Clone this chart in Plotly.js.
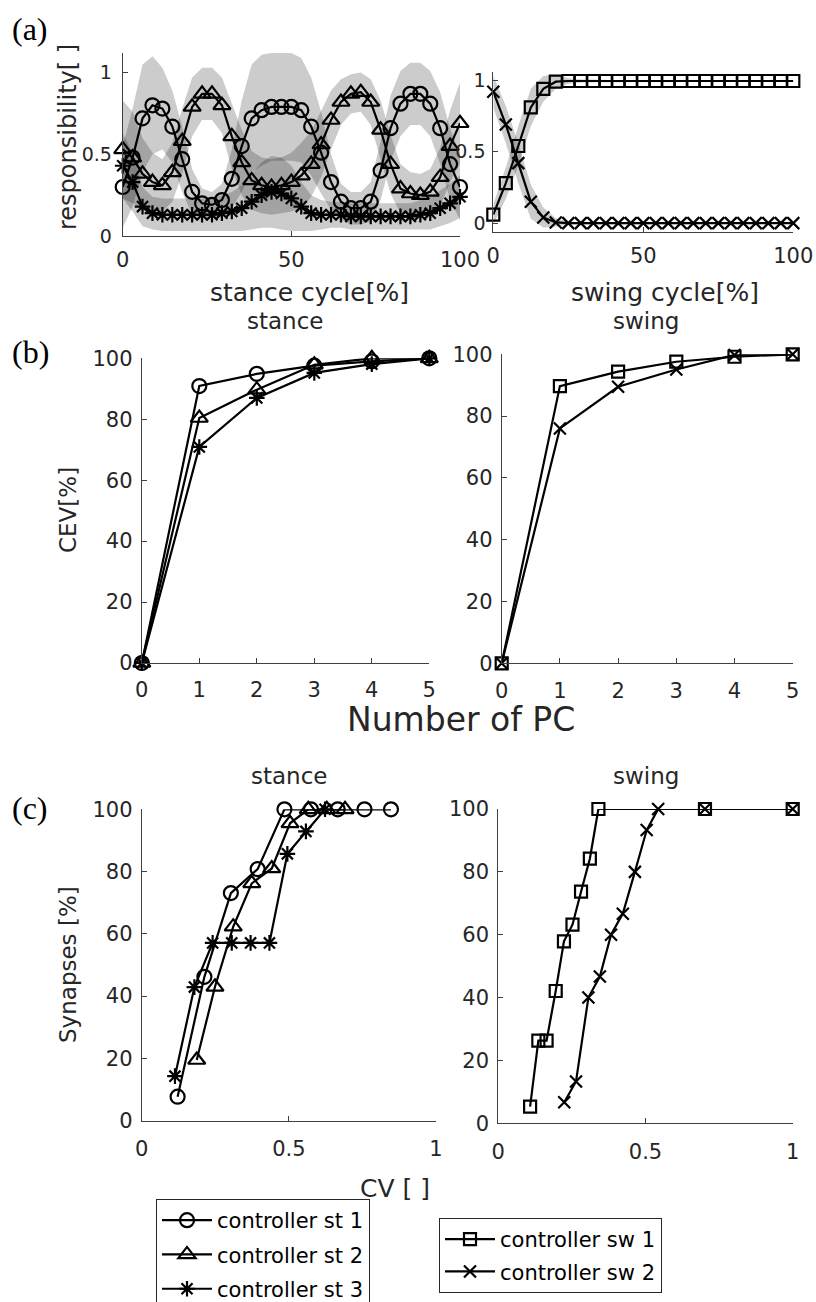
<!DOCTYPE html>
<html>
<head>
<meta charset="utf-8">
<script src="https://cdn.plot.ly/plotly-3.0.1.min.js"></script>
<style>html,body{margin:0;padding:0;background:#fff;}#chart{width:816px;height:1302px;}</style>
</head>
<body>
<div id="chart"></div>
<script>
// ---------- (a) responsibility, stance cycle ----------
const stanceX = [0, 2.94, 5.88, 8.82, 11.76, 14.71, 17.65, 20.59, 23.53, 26.47, 29.41, 32.35, 35.29, 38.24, 41.18, 44.12, 47.06, 50, 52.94, 55.88, 58.82, 61.76, 64.71, 67.65, 70.59, 73.53, 76.47, 79.41, 82.35, 85.29, 88.24, 91.18, 94.12, 97.06, 100];
const st1Mean = [0.30, 0.48, 0.72, 0.80, 0.78, 0.67, 0.47, 0.27, 0.20, 0.19, 0.22, 0.35, 0.55, 0.72, 0.77, 0.79, 0.79, 0.79, 0.77, 0.67, 0.51, 0.33, 0.21, 0.17, 0.17, 0.21, 0.40, 0.66, 0.81, 0.87, 0.87, 0.81, 0.66, 0.44, 0.30];
const st1Std  = [0.25, 0.30, 0.33, 0.30, 0.25, 0.22, 0.20, 0.14, 0.09, 0.08, 0.10, 0.18, 0.28, 0.33, 0.34, 0.33, 0.33, 0.33, 0.32, 0.30, 0.25, 0.17, 0.11, 0.10, 0.10, 0.12, 0.18, 0.20, 0.20, 0.19, 0.19, 0.20, 0.22, 0.22, 0.20];
const st2Mean = [0.53, 0.48, 0.38, 0.33, 0.31, 0.39, 0.58, 0.79, 0.87, 0.87, 0.80, 0.61, 0.45, 0.34, 0.31, 0.30, 0.31, 0.33, 0.37, 0.44, 0.56, 0.71, 0.82, 0.87, 0.88, 0.82, 0.65, 0.44, 0.29, 0.26, 0.25, 0.27, 0.36, 0.55, 0.69];
const st2Std  = [0.30, 0.28, 0.22, 0.18, 0.16, 0.18, 0.20, 0.18, 0.16, 0.16, 0.17, 0.20, 0.20, 0.18, 0.17, 0.17, 0.17, 0.18, 0.20, 0.20, 0.20, 0.18, 0.14, 0.12, 0.12, 0.14, 0.18, 0.18, 0.15, 0.13, 0.13, 0.14, 0.18, 0.22, 0.25];
const st3Mean = [0.43, 0.33, 0.18, 0.14, 0.13, 0.13, 0.13, 0.13, 0.13, 0.13, 0.14, 0.15, 0.17, 0.21, 0.25, 0.27, 0.26, 0.23, 0.18, 0.14, 0.13, 0.13, 0.13, 0.12, 0.12, 0.12, 0.12, 0.12, 0.12, 0.12, 0.13, 0.14, 0.17, 0.20, 0.24];
const st3Std  = [0.20, 0.18, 0.12, 0.10, 0.10, 0.10, 0.10, 0.10, 0.10, 0.10, 0.11, 0.12, 0.14, 0.17, 0.20, 0.22, 0.22, 0.20, 0.15, 0.11, 0.09, 0.08, 0.08, 0.08, 0.08, 0.08, 0.08, 0.08, 0.08, 0.08, 0.09, 0.10, 0.11, 0.12, 0.13];

// ---------- (a) responsibility, swing cycle ----------
const swingX = [0, 4.17, 8.33, 12.5, 16.67, 20.83, 25, 29.17, 33.33, 37.5, 41.67, 45.83, 50, 54.17, 58.33, 62.5, 66.67, 70.83, 75, 79.17, 83.33, 87.5, 91.67, 95.83, 100];
const sw1Mean = [0.06, 0.28, 0.54, 0.81, 0.94, 0.99, 0.995, 0.995, 0.995, 0.995, 0.995, 0.995, 0.995, 0.995, 0.995, 0.995, 0.995, 0.995, 0.995, 0.995, 0.995, 0.995, 0.995, 0.995, 0.995];
const sw1Std  = [0.07, 0.11, 0.14, 0.13, 0.09, 0.05, 0.02, 0.01, 0.01, 0.005, 0.005, 0.005, 0.005, 0.005, 0.005, 0.005, 0.005, 0.005, 0.005, 0.005, 0.005, 0.005, 0.005, 0.005, 0.005];
const sw2Mean = [0.92, 0.69, 0.42, 0.15, 0.04, 0.005, 0, 0, 0, 0, 0, 0, 0, 0, 0, 0, 0, 0, 0, 0, 0, 0, 0, 0, 0];
const sw2Std  = [0.11, 0.13, 0.14, 0.12, 0.07, 0.03, 0.01, 0.005, 0.005, 0.005, 0.005, 0.005, 0.005, 0.005, 0.005, 0.005, 0.005, 0.005, 0.005, 0.005, 0.005, 0.005, 0.005, 0.005, 0.005];

// ---------- (b) CEV vs number of PC ----------
const pcX = [0, 1, 2, 3, 4, 5];
const cevSt1 = [0, 90.9, 94.9, 97.6, 99.0, 100];
const cevSt2 = [0, 80.4, 89.7, 97.9, 100, 100];
const cevSt3 = [0, 70.9, 87.0, 95.2, 98.1, 100];
const cevSw1 = [0, 89.7, 94.4, 97.6, 99.2, 100];
const cevSw2 = [0, 76.0, 89.5, 95.1, 99.8, 100];

// ---------- (c) Synapses vs CV ----------
const cvSt1  = [0.122, 0.213, 0.303, 0.394, 0.485, 0.575, 0.666, 0.757, 0.847];
const synSt1 = [7.7, 46.2, 73.1, 80.8, 100, 100, 100, 100, 100];
const cvSt2  = [0.187, 0.249, 0.311, 0.374, 0.442, 0.504, 0.566, 0.629, 0.691];
const synSt2 = [19.5, 43.0, 62.3, 76.2, 81.0, 95.5, 100, 100, 100];
const cvSt3  = [0.113, 0.179, 0.241, 0.306, 0.370, 0.434, 0.495, 0.558, 0.623];
const synSt3 = [14.3, 42.9, 57.1, 57.1, 57.1, 57.1, 85.7, 92.9, 100];
const cvSw1  = [0.108, 0.136, 0.164, 0.195, 0.223, 0.252, 0.281, 0.311, 0.340, 0.702, 1.0];
const synSw1 = [5.3, 26.3, 26.3, 42.1, 57.9, 63.2, 73.7, 84.2, 100, 100, 100];
const cvSw2  = [0.224, 0.264, 0.306, 0.345, 0.383, 0.423, 0.464, 0.504, 0.543, 0.702, 1.0];
const synSw2 = [6.7, 13.3, 40.0, 46.7, 60.0, 66.7, 80.0, 93.3, 100, 100, 100];

const seriesNames = ['controller st 1', 'controller st 2', 'controller st 3', 'controller sw 1', 'controller sw 2'];
const xTicksCycle = [0, 50, 100];
const yTicksResp = [0, 0.5, 1];
const xTicksPC = [0, 1, 2, 3, 4, 5];
const yTicks100 = [0, 20, 40, 60, 80, 100];
const xTicksCV = [0, 0.5, 1];

// ---------- styles ----------
const FONT = 'DejaVu Sans, sans-serif';
const INK = '#262626';
const styles = [
  {symbol: 'circle-open', size: 14},
  {symbol: 'triangle-up-open', size: 15},
  {symbol: 'asterisk-open', size: 13},
  {symbol: 'square-open', size: 12},
  {symbol: 'x-thin-open', size: 12}
];

function line(x, y, k, xa, ya, opts) {
  return Object.assign({
    type: 'scatter', mode: 'lines+markers', x: x, y: y, xaxis: xa, yaxis: ya,
    name: seriesNames[k], showlegend: false, cliponaxis: false,
    line: {color: '#000', width: 2.2},
    marker: {symbol: styles[k].symbol, size: styles[k].size, color: '#000', line: {color: '#000', width: 2.2}}
  }, opts || {});
}
function band(x, m, s, xa, ya) {
  const up = m.map((v, i) => v + s[i]);
  const lo = m.map((v, i) => v - s[i]);
  return {
    type: 'scatter', mode: 'lines', x: x.concat(x.slice().reverse()),
    y: up.concat(lo.slice().reverse()), fill: 'toself',
    fillcolor: 'rgba(0,0,0,0.2)', line: {width: 0, color: 'rgba(0,0,0,0)'},
    hoverinfo: 'skip', showlegend: false, xaxis: xa, yaxis: ya
  };
}

const traces = [
  band(stanceX, st1Mean, st1Std, 'x', 'y'),
  band(stanceX, st2Mean, st2Std, 'x', 'y'),
  band(stanceX, st3Mean, st3Std, 'x', 'y'),
  line(stanceX, st3Mean, 2, 'x', 'y'),
  line(stanceX, st1Mean, 0, 'x', 'y'),
  line(stanceX, st2Mean, 1, 'x', 'y'),
  band(swingX, sw1Mean, sw1Std, 'x2', 'y2'),
  band(swingX, sw2Mean, sw2Std, 'x2', 'y2'),
  line(swingX, sw1Mean, 3, 'x2', 'y2'),
  line(swingX, sw2Mean, 4, 'x2', 'y2'),
  line(pcX, cevSt1, 0, 'x3', 'y3'),
  line(pcX, cevSt2, 1, 'x3', 'y3'),
  line(pcX, cevSt3, 2, 'x3', 'y3'),
  line(pcX, cevSw1, 3, 'x4', 'y4'),
  line(pcX, cevSw2, 4, 'x4', 'y4'),
  line(cvSt1, synSt1, 0, 'x5', 'y5', {showlegend: true, legend: 'legend', legendgroup: 'a'}),
  line(cvSt2, synSt2, 1, 'x5', 'y5', {showlegend: true, legend: 'legend', legendgroup: 'b'}),
  line(cvSt3, synSt3, 2, 'x5', 'y5', {showlegend: true, legend: 'legend', legendgroup: 'c'}),
  line(cvSw1, synSw1, 3, 'x6', 'y6', {showlegend: true, legend: 'legend2', legendgroup: 'd'}),
  line(cvSw2, synSw2, 4, 'x6', 'y6', {showlegend: true, legend: 'legend2', legendgroup: 'e'})
];

const W = 816, H = 1302;
const px = v => v / W;
const py = v => 1 - v / H;

function axis(domain, range, ticks, anchor, extra) {
  return Object.assign({
    domain: domain, range: range, anchor: anchor,
    tickmode: 'array', tickvals: ticks, ticktext: ticks.map(String),
    showline: true, linecolor: '#404040', linewidth: 1,
    ticks: 'inside', ticklen: 5, tickcolor: '#404040', tickwidth: 1,
    showgrid: false, zeroline: false, fixedrange: true,
    tickfont: {family: FONT, size: 21, color: INK}
  }, extra || {});
}

const layout = {
  width: W, height: H,
  margin: {l: 0, r: 0, t: 0, b: 0, autoexpand: false},
  paper_bgcolor: '#fff', plot_bgcolor: 'rgba(0,0,0,0)',
  font: {family: FONT, color: INK},
  showlegend: true,
  xaxis:  axis([px(122.7), px(460)], [0, 100], xTicksCycle, 'y', {ticklabelstandoff: 5}),
  yaxis:  axis([py(236), py(53)], [0, 1.12], yTicksResp, 'x', {ticklabelstandoff: 6, tickfont: {family: FONT, size: 19, color: INK}}),
  xaxis2: axis([px(493.3), px(793.3)], [0, 100], xTicksCycle, 'y2', {ticklabelstandoff: 5}),
  yaxis2: axis([py(231.7), py(71.7)], [-0.06, 1.06], yTicksResp, 'x2', {ticklabelstandoff: 3, tickfont: {family: FONT, size: 19, color: INK}}),
  xaxis3: axis([px(141.8), px(429.3)], [0, 5], xTicksPC, 'y3', {ticklabelstandoff: 8}),
  yaxis3: axis([py(663), py(358.3)], [0, 100], yTicks100, 'x3', {ticklabelstandoff: 4}),
  xaxis4: axis([px(501.7), px(792.7)], [0, 5], xTicksPC, 'y4', {ticklabelstandoff: 8}),
  yaxis4: axis([py(663.3), py(354.3)], [0, 100], yTicks100, 'x4', {ticklabelstandoff: 4}),
  xaxis5: axis([px(141.7), px(436)], [0, 1], xTicksCV, 'y5', {ticklabelstandoff: 9}),
  yaxis5: axis([py(1120.7), py(809.3)], [0, 100], yTicks100, 'x5', {ticklabelstandoff: 4}),
  xaxis6: axis([px(498.3), px(792.7)], [0, 1], xTicksCV, 'y6', {ticklabelstandoff: 9}),
  yaxis6: axis([py(1123.3), py(809)], [0, 100], yTicks100, 'x6', {ticklabelstandoff: 4}),
  legend: {
    x: px(156), y: py(1199), xanchor: 'left', yanchor: 'top',
    bordercolor: INK, borderwidth: 1, bgcolor: '#fff',
    font: {family: FONT, size: 21, color: '#000'}, itemwidth: 50,
    tracegroupgap: 4, traceorder: 'grouped'
  },
  legend2: {
    x: px(439), y: py(1218), xanchor: 'left', yanchor: 'top',
    bordercolor: INK, borderwidth: 1, bgcolor: '#fff',
    font: {family: FONT, size: 21, color: '#000'}, itemwidth: 50,
    tracegroupgap: 2, traceorder: 'grouped'
  },
  annotations: []
};

function label(text, x, y, size, extra) {
  layout.annotations.push(Object.assign({
    text: text, xref: 'paper', yref: 'paper', x: px(x), y: py(y),
    xanchor: 'center', yanchor: 'middle', showarrow: false,
    font: {family: FONT, size: size, color: INK}
  }, extra || {}));
}
const SERIF = {family: 'Liberation Serif, serif', size: 32, color: '#000'};
label('(a)', 30, 29, 32, {font: SERIF});
label('(b)', 30, 352, 32, {font: SERIF});
label('(c)', 30, 808, 32, {font: SERIF});
label('responsibility[ ]', 68, 137, 24, {textangle: -90});
label('stance cycle[%]', 309, 292, 25);
label('swing cycle[%]', 665, 292, 25);
label('stance', 285, 321, 23);
label('swing', 646, 321, 23);
label('CEV[%]', 68, 510, 23, {textangle: -90});
label('Number of PC', 461, 719, 33);
label('stance', 289, 776, 23);
label('swing', 646, 776, 23);
label('Synapses [%]', 68, 965, 23, {textangle: -90});
label('CV [ ]', 395, 1188, 25);

Plotly.newPlot('chart', traces, layout, {staticPlot: true, displayModeBar: false});
</script>
</body>
</html>
